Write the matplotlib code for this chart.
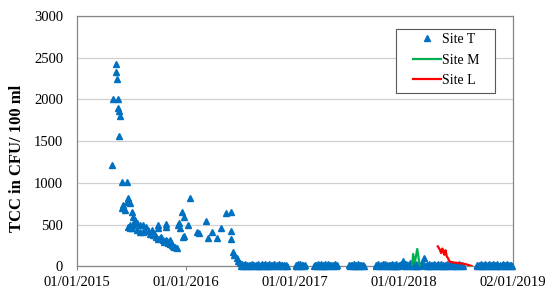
import matplotlib
matplotlib.use("Agg")
import matplotlib.pyplot as plt
from matplotlib.patches import Rectangle
import pandas as pd

# Site T, days since 01/01/2015 and TCC (CFU/100 ml) - first 1.5 years
t_days_a = [116, 122, 136, 130, 132, 134, 137, 140, 143, 141,
            150, 166, 172, 166, 155, 177, 150, 161, 183, 189,
            194, 177, 189, 200, 211, 222, 233, 183, 200, 211,
            222, 239, 172, 177, 228, 238, 244, 250, 254, 261,
            265, 271, 272, 272, 278, 281, 289, 291, 300, 301,
            306, 311, 311, 317, 321, 326, 328, 334, 300, 300,
            339, 342, 345, 351, 359, 356, 360, 371, 378, 401,
            410, 432, 454, 440, 468, 482, 501, 518, 518, 515,
            523, 527, 535, 540, 546]
t_vals_a = [1210, 2010, 2010, 2420, 2330, 2240, 1900, 1860, 1800, 1565,
            1010, 1010, 818, 778, 738, 758, 698, 678, 658, 598,
            558, 498, 498, 518, 498, 498, 478, 458, 438, 418,
            418, 438, 470, 460, 450, 420, 395, 438, 380, 378,
            350, 330, 458, 500, 338, 350, 318, 290, 318, 300,
            278, 318, 270, 258, 250, 238, 230, 218, 510, 470,
            498, 518, 458, 658, 598, 358, 370, 498, 818, 418,
            398, 550, 418, 338, 338, 458, 646, 658, 430, 330,
            170, 138, 98, 70, 38]

# Site T, near-zero period (twice-weekly samples)
t_days_b = [550, 553, 557, 560, 564, 567, 571, 574, 578, 581,
            585, 588, 592, 595, 599, 602, 606, 609, 613, 616,
            620, 623, 627, 630, 634, 637, 641, 644, 648, 651,
            655, 658, 662, 665, 669, 672, 676, 679, 683, 686,
            690, 693, 697, 700, 703,
            733, 736, 740, 743, 747, 750, 754, 757, 761, 763,
            794, 797, 801, 804, 808, 811, 815, 818, 822, 825,
            829, 832, 836, 839, 843, 846, 850, 853, 857, 860,
            864, 867, 871,
            911, 914, 918, 921, 925, 928, 932, 935, 939, 942,
            946, 949, 953, 956, 960, 964,
            1001, 1004, 1008, 1011, 1015, 1018, 1022, 1025, 1029, 1032,
            1036, 1039, 1043, 1046, 1050, 1053, 1057, 1060, 1064, 1067,
            1071, 1074, 1078, 1081, 1085, 1088, 1092, 1095, 1099, 1102,
            1106, 1109, 1113, 1116, 1120, 1123, 1127, 1130, 1134, 1137,
            1141, 1144, 1148, 1151, 1155, 1158, 1162, 1165, 1169, 1172,
            1176, 1179, 1183, 1186, 1190, 1193, 1197, 1200, 1204, 1207,
            1211, 1214, 1218, 1221, 1225, 1228, 1232, 1235, 1239, 1242,
            1246, 1249, 1253, 1256, 1260, 1263, 1267, 1270, 1274, 1277,
            1281, 1284, 1288, 1291, 1295,
            1340, 1343, 1347, 1350, 1354, 1357, 1361, 1364, 1368, 1371,
            1375, 1378, 1382, 1385, 1389, 1392, 1396, 1399, 1403, 1406,
            1410, 1413, 1417, 1420, 1424, 1427, 1431, 1434, 1438, 1441,
            1445, 1448, 1452, 1455, 1458]
t_vals_b = [10, 25, 5, 18, 30, 8, 14, 2, 22, 12,
            6, 28, 15, 4, 20, 9, 33, 11, 3, 17,
            24, 7, 13, 29, 5, 19, 10, 26, 2, 15,
            21, 8, 31, 12, 4, 18, 27, 6, 14, 23,
            9, 16, 3, 20, 11,
            15, 6, 24, 10, 30, 3, 18, 12, 7, 20,
            8, 22, 13, 4, 27, 16, 9, 31, 5, 19,
            11, 25, 2, 17, 28, 7, 14, 21, 6, 12,
            26, 10, 18,
            12, 4, 23, 15, 8, 29, 6, 19, 11, 25,
            3, 16, 21, 9, 14, 7,
            20, 6, 14, 27, 9, 17, 3, 24, 12, 30,
            8, 19, 5, 22, 13, 2, 28, 10, 16, 7,
            25, 11, 4, 21, 15, 35, 70, 18, 6, 26,
            12, 20, 9, 45, 14, 3, 24, 16, 8, 29,
            11, 19, 5, 23, 13, 30, 105, 17, 7, 22,
            10, 27, 4, 15, 20, 8, 26, 12, 3, 18,
            24, 9, 14, 31, 6, 21, 11, 17, 2, 25,
            13, 8, 28, 16, 5, 19, 10, 23, 7, 15,
            26, 12, 4, 20, 9,
            14, 6, 22, 11, 28, 3, 17, 9, 25, 13,
            5, 20, 30, 8, 16, 2, 24, 12, 19, 7,
            27, 10, 15, 4, 21, 33, 9, 18, 6, 26,
            12, 3, 20, 14, 8]

# Site M
m_days = [1124, 1127, 1133, 1141, 1149]
m_vals = [20, 150, 50, 210, 15]

# Site L
l_days = [1210, 1217, 1221, 1225, 1229, 1232, 1236, 1240, 1244, 1249,
          1259, 1271, 1288, 1305, 1316, 1323]
l_vals = [240, 200, 160, 215, 170, 140, 195, 120, 100, 60,
          50, 45, 38, 26, 14, 6]

tick_dates = ["2015-01-01", "2016-01-01", "2017-01-01", "2018-01-01", "2019-01-02"]
tick_labels = ["01/01/2015", "01/01/2016", "01/01/2017", "01/01/2018", "02/01/2019"]

start = pd.Timestamp("2015-01-01")
def to_dates(days):
    return start + pd.to_timedelta(days, unit="D")

plt.rcParams["font.family"] = ["Liberation Serif", "DejaVu Serif"]

fig = plt.figure(figsize=(5.5, 2.99), dpi=100)
ax = fig.add_axes([0.14, 0.1087, 0.7927, 0.8378])

ax.plot(to_dates(t_days_a + t_days_b), t_vals_a + t_vals_b, ls="none", marker="^",
        ms=5, color="#0070C0", label="Site T", clip_on=False, zorder=3)
ax.plot(to_dates(m_days), m_vals, color="#00B050", lw=1.6, label="Site M", zorder=4)
ax.plot(to_dates(l_days), l_vals, color="#FF0000", lw=1.6, label="Site L", zorder=4)

ax.set_ylim(0, 3000)
ax.set_yticks(range(0, 3001, 500))
ax.set_xlim(start, pd.Timestamp("2019-01-02"))
ax.set_xticks(pd.to_datetime(tick_dates))
ax.set_xticklabels(tick_labels)

ax.grid(axis="y", color="#d0d0d0", lw=0.9)
ax.set_axisbelow(True)
for s in ax.spines.values():
    s.set_color("#868686")
    s.set_linewidth(0.9)

ax.tick_params(axis="x", length=3, color="#868686", pad=4, labelsize=10.5)
ax.tick_params(axis="y", length=0, pad=10, labelsize=10.5)

ax.set_ylabel("TCC in CFU/ 100 ml", fontsize=12, fontweight="bold")
ax.yaxis.set_label_coords(-0.12, 0.433)

# legend box drawn separately (wider side padding than matplotlib gives)
ax.add_patch(Rectangle((0.7314, 0.694), 0.2273, 0.254, transform=ax.transAxes,
                       facecolor="white", edgecolor="#595959", lw=0.8, zorder=5))
leg = ax.legend(loc="upper left", bbox_to_anchor=(0.7706, 0.932), borderaxespad=0,
                fontsize=10, frameon=False, handlelength=2.0, handletextpad=0.1,
                labelspacing=0.55, borderpad=0)
leg.set_zorder(6)

fig.savefig("out.png", dpi=100)
